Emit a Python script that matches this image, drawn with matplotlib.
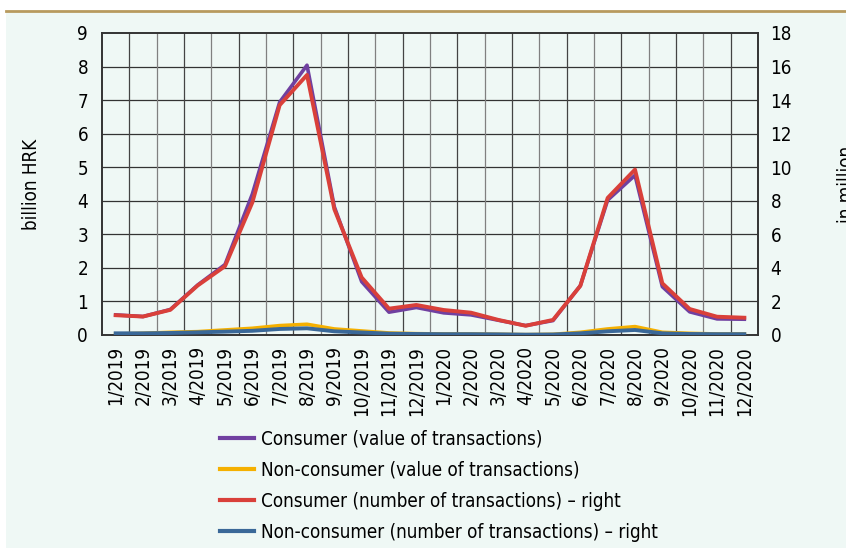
import matplotlib.pyplot as plt
from matplotlib.patches import Rectangle
from matplotlib.lines import Line2D

plt.rcParams['font.family'] = ['Liberation Sans Narrow', 'DejaVu Sans']
plt.rcParams['font.stretch'] = 'condensed'

months = ['1/2019', '2/2019', '3/2019', '4/2019', '5/2019', '6/2019', '7/2019', '8/2019',
          '9/2019', '10/2019', '11/2019', '12/2019', '1/2020', '2/2020', '3/2020', '4/2020',
          '5/2020', '6/2020', '7/2020', '8/2020', '9/2020', '10/2020', '11/2020', '12/2020']

# left axis, billion HRK
consumer_value = [0.60, 0.55, 0.76, 1.49, 2.10, 4.20, 6.94, 8.04, 3.82, 1.59, 0.68, 0.82,
                  0.66, 0.60, 0.44, 0.28, 0.43, 1.47, 4.02, 4.76, 1.44, 0.69, 0.48, 0.47]
nonconsumer_value = [0.03, 0.05, 0.08, 0.10, 0.15, 0.20, 0.28, 0.32, 0.18, 0.12, 0.06, 0.04,
                     0.03, 0.03, 0.02, 0.01, 0.02, 0.08, 0.18, 0.25, 0.08, 0.05, 0.03, 0.03]
# right axis, in million
consumer_number = [1.18, 1.10, 1.50, 2.95, 4.10, 7.90, 13.7, 15.5, 7.50, 3.43, 1.57, 1.79,
                   1.49, 1.33, 0.90, 0.55, 0.90, 2.93, 8.17, 9.86, 3.08, 1.55, 1.09, 1.03]
nonconsumer_number = [0.10, 0.10, 0.12, 0.16, 0.20, 0.25, 0.36, 0.40, 0.22, 0.15, 0.08, 0.06,
                      0.05, 0.05, 0.04, 0.02, 0.03, 0.10, 0.22, 0.30, 0.10, 0.06, 0.05, 0.05]

bg = '#eff8f5'
c_purple = '#7040a0'
c_yellow = '#f5b000'
c_red = '#d9403a'
c_blue = '#3a6898'

fig = plt.figure(figsize=(8.46, 5.48), dpi=100, facecolor='white')
# panel background and top rule
fig.patches.append(Rectangle((6 / 846, 0), 1, 1 - 12 / 548, transform=fig.transFigure,
                             facecolor=bg, edgecolor='none', zorder=-5))
fig.lines.append(Line2D([6 / 846, 1], [1 - 11 / 548, 1 - 11 / 548], transform=fig.transFigure,
                        color='#b89a5e', lw=2, zorder=-4))

ax = fig.add_axes([102 / 846, 1 - 335 / 548, 656 / 846, 302 / 548])
ax.set_facecolor(bg)
ax2 = ax.twinx()

x = list(range(len(months)))
ax.plot(x, consumer_value, color=c_purple, lw=2.6, zorder=3)
ax.plot(x, nonconsumer_value, color=c_yellow, lw=2.6, zorder=3)
ax2.plot(x, consumer_number, color=c_red, lw=2.8, zorder=3)
ax2.plot(x, nonconsumer_number, color=c_blue, lw=2.8, zorder=3)

ax.set_xlim(-0.5, len(months) - 0.5)
ax.set_ylim(0, 9)
ax2.set_ylim(0, 18)
ax.set_yticks(range(0, 10))
ax2.set_yticks(range(0, 19, 2))

# grid: horizontal at ticks, vertical at category boundaries
for v in range(1, 9):
    ax.axhline(v, color='#333333', lw=0.9, zorder=1)
for b in range(1, len(months)):
    ax.axvline(b - 0.5, color='#444444' if b % 2 else '#808080', lw=0.9, zorder=1)

ax.set_xticks(x)
ax.set_xticklabels(months, rotation=90, fontsize=13.5)
ax.tick_params(axis='x', length=0, pad=8)
ax.tick_params(axis='y', length=0, pad=10, labelsize=13.5)
ax2.tick_params(axis='y', length=0, pad=9, labelsize=13.5)

for a in (ax, ax2):
    for s in a.spines.values():
        s.set_color('#333333')
        s.set_linewidth(1.2)

ax.set_ylabel('billion HRK', fontsize=13.5, labelpad=26)
fig.text(837 / 846, 1 - 184 / 548, 'in million', rotation=90, ha='left', va='center',
         fontsize=13.5)

handles = [Line2D([], [], color=c, lw=3) for c in (c_purple, c_yellow, c_red, c_blue)]
labels = ['Consumer (value of transactions)', 'Non-consumer (value of transactions)',
          'Consumer (number of transactions) \u2013 right',
          'Non-consumer (number of transactions) \u2013 right']
fig.legend(handles, labels, loc='upper left', bbox_to_anchor=(203 / 846, 1 - 413 / 548),
           frameon=False, fontsize=13.5, handlelength=1.8, handletextpad=0.37,
           labelspacing=0.64)

fig.savefig('out.png', dpi=100, facecolor='white')
